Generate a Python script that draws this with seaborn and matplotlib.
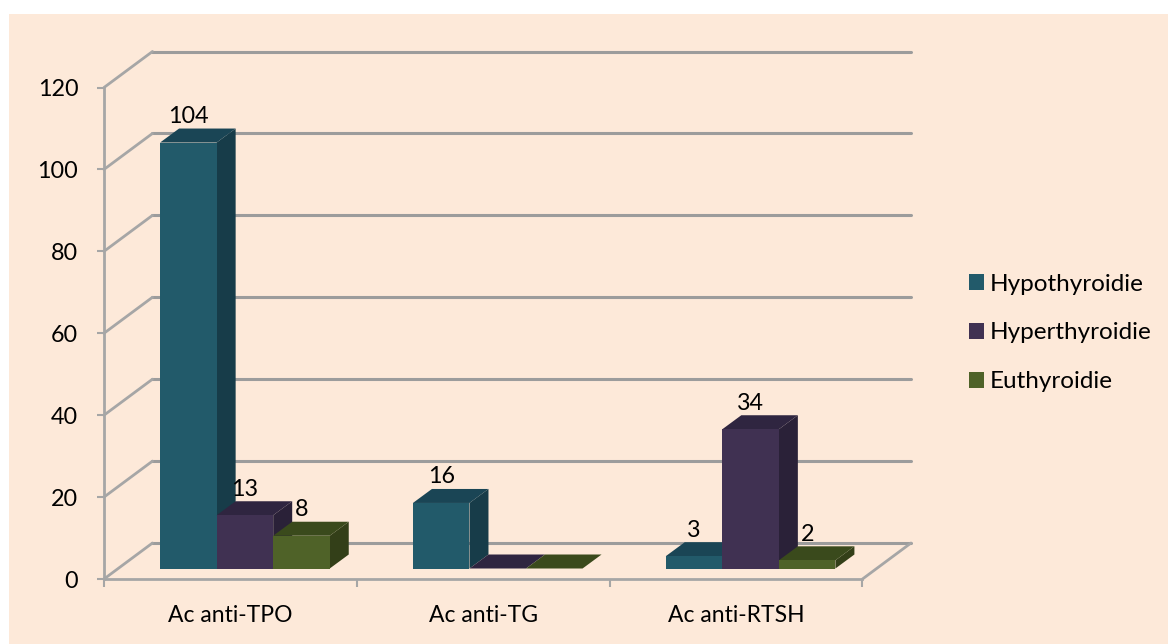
import matplotlib
matplotlib.use("Agg")
import matplotlib.pyplot as plt
from matplotlib.patches import Patch, Polygon, Rectangle
from matplotlib.transforms import Affine2D, IdentityTransform
import pandas as pd
import seaborn as sns

# Antibody counts per thyroid status
categories = ["Ac anti-TPO", "Ac anti-TG", "Ac anti-RTSH"]
series_names = ["Hypothyroidie", "Hyperthyroidie", "Euthyroidie"]
hypothyroidie = [104, 16, 3]
hyperthyroidie = [13, 0, 34]
euthyroidie = [8, 0, 2]
y_ticks = [0, 20, 40, 60, 80, 100, 120]

front_colors = ["#225A6A", "#403152", "#4F6228"]
top_colors = ["#1A4555", "#2F2540", "#3A4A1C"]
side_colors = ["#173C49", "#2A2138", "#333F18"]
background = "#FDE9D9"
wall_grey = "#9C9C9C"

W, H = 1168, 644
sns.set_theme(style="white")
plt.rcParams["font.family"] = ["Lato", "DejaVu Sans"]

frame = pd.DataFrame({
    "categorie": categories * 3,
    "statut": [s for s in series_names for _ in categories],
    "valeur": hypothyroidie + hyperthyroidie + euthyroidie,
})

fig = plt.figure(figsize=(W / 100, H / 100), dpi=100, facecolor="white")
fig.add_artist(Rectangle((9 / W, 0), 1, 1 - 14 / H, transform=fig.transFigure,
                         facecolor=background, edgecolor="none", zorder=-10))

AX_LEFT, AX_RIGHT, AX_ZERO, AX_TOP = 104, 862.5, 579, 87.5
ax = fig.add_axes([AX_LEFT / W, (H - AX_ZERO) / H,
                   (AX_RIGHT - AX_LEFT) / W, (AX_ZERO - AX_TOP) / H])
ax.patch.set_alpha(0)

sns.barplot(data=frame, x="categorie", y="valeur", hue="statut",
            order=categories, hue_order=series_names, palette=front_colors,
            width=0.671, gap=0, saturation=1, legend=False, linewidth=0,
            edgecolor="none", ax=ax)
ax.set_xlim(-0.5, 2.5)
ax.set_ylim(0, 120)
ax.set_xlabel("")
ax.set_ylabel("")

# Back wall and floor: lines pushed along the depth direction
WALL_DX, WALL_DY = 48.5, 36
back = ax.transData + Affine2D().translate(WALL_DX, WALL_DY)
for tick in y_ticks:
    ax.plot([-0.5, 2.5], [tick, tick], transform=back, color=wall_grey,
            lw=2.2, clip_on=False, zorder=1, solid_capstyle="round")
    x0, y0 = ax.transData.transform((-0.5, tick))
    ax.plot([x0, x0 + WALL_DX], [y0, y0 + WALL_DY],
            transform=IdentityTransform(), color="#A6A6A6", lw=2,
            clip_on=False, zorder=1)
xr, yr = ax.transData.transform((2.5, 0))
ax.plot([xr, xr + WALL_DX], [yr, yr + WALL_DY], transform=IdentityTransform(),
        color="#A6A6A6", lw=2, clip_on=False, zorder=1)

# Axis lines and tick marks
for side in ["top", "right"]:
    ax.spines[side].set_visible(False)
for side in ["left", "bottom"]:
    ax.spines[side].set_color("#A6A6A6")
    ax.spines[side].set_linewidth(2)
    ax.spines[side].set_zorder(2)
ax.set_yticks(y_ticks)
ax.set_xticks([-0.5, 0.5, 1.5, 2.5], minor=True)
ax.tick_params(axis="y", which="major", left=True, length=5, width=1.5,
               color="#A6A6A6", labelsize=16.8, labelcolor="black", pad=13.5)
ax.tick_params(axis="x", which="minor", bottom=True, length=6, width=1.5,
               color="#A6A6A6")
ax.tick_params(axis="x", which="major", bottom=False, labelsize=16.5,
               labelcolor="black", pad=13)

# Bars stand slightly inside the floor: shift them, then extrude each one
BAR_DX, BAR_DY = 14.5, 10.5
DEPTH_DX, DEPTH_DY = 19, 14
shift = Affine2D().translate(BAR_DX, BAR_DY)
ident = IdentityTransform()
order = 10
for col in range(len(categories)):
    for s, container in enumerate(ax.containers):
        bar = container[col]
        x, w, v = bar.get_x(), bar.get_width(), bar.get_height()
        (xa, ya) = shift.transform(ax.transData.transform((x, 0)))
        (xb, yb) = shift.transform(ax.transData.transform((x + w, v)))
        dx, dy = DEPTH_DX, DEPTH_DY
        ax.add_patch(Polygon([(xb, ya), (xb + dx, ya + dy), (xb + dx, yb + dy), (xb, yb)],
                             transform=ident, facecolor=side_colors[s],
                             edgecolor="none", clip_on=False, zorder=order))
        ax.add_patch(Polygon([(xa, yb), (xb, yb), (xb + dx, yb + dy), (xa + dx, yb + dy)],
                             transform=ident, facecolor=top_colors[s],
                             edgecolor="none", clip_on=False, zorder=order + 1))
        bar.set_transform(ax.transData + shift)
        bar.set_clip_on(False)
        bar.set_zorder(order + 2)
        order += 3
        if v > 0:
            ax.annotate(f"{v:.0f}", xy=(x + w / 2, v), xycoords="data",
                        xytext=(BAR_DX, BAR_DY + 26), textcoords="offset pixels",
                        ha="center", va="center", fontsize=16.8, color="black",
                        zorder=200, annotation_clip=False)

# Legend
handles = [Patch(facecolor=c, edgecolor="none", label=n)
           for c, n in zip(front_colors, series_names)]
fig.legend(handles=handles, loc="center left", bbox_to_anchor=(969 / W, 1 - 333 / H),
           frameon=False, fontsize=17.5, labelcolor="black", handlelength=0.62,
           handleheight=0.62, handletextpad=0.25, labelspacing=1.14,
           borderpad=0, borderaxespad=0)

fig.savefig("out.png", dpi=100, facecolor=fig.get_facecolor())
